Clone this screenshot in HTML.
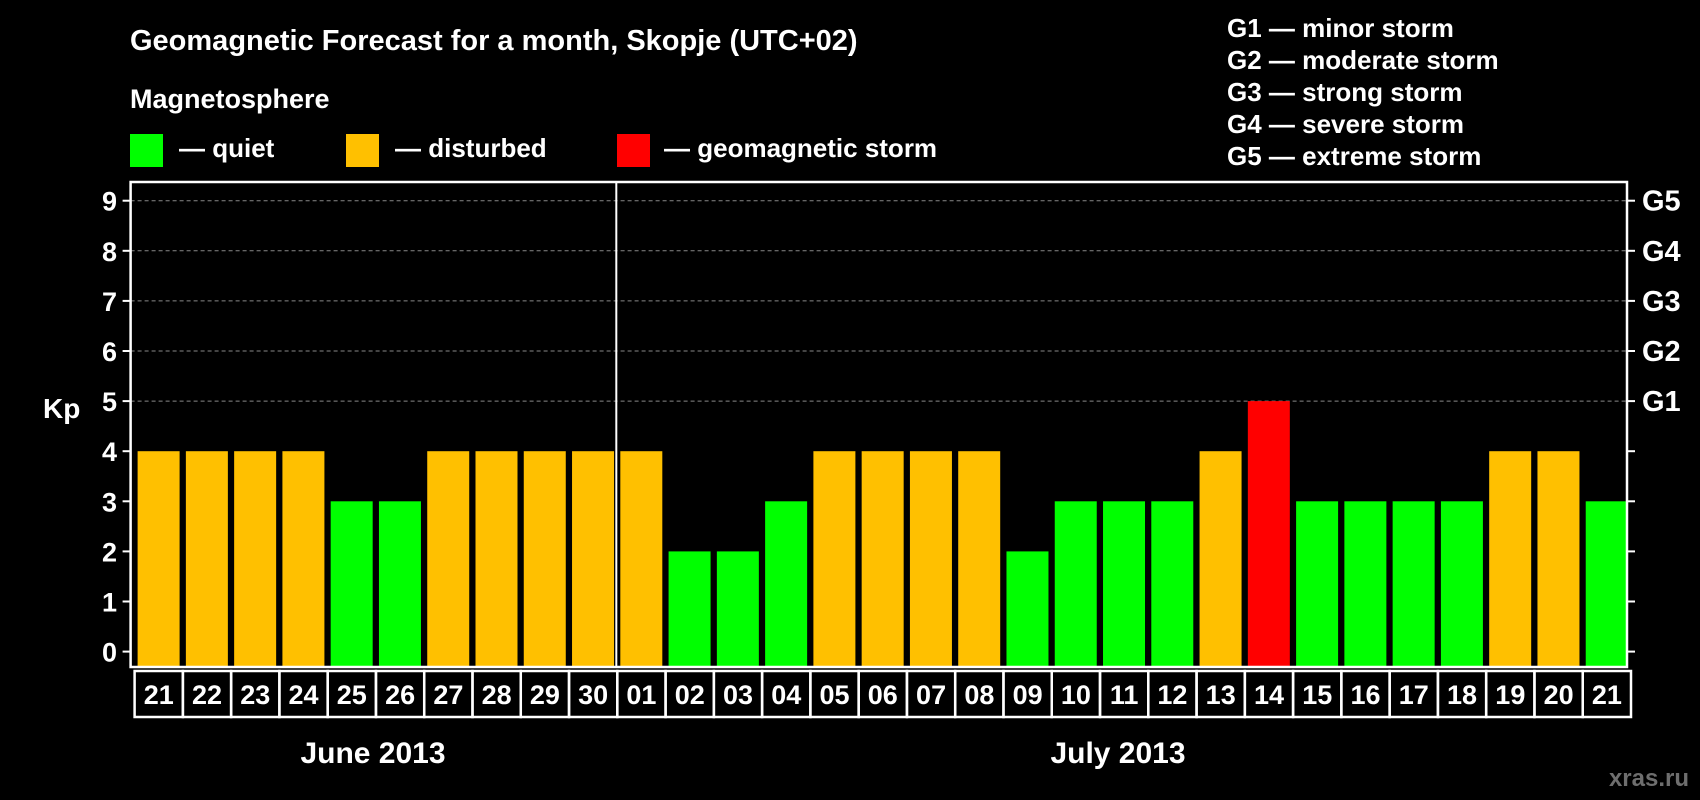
<!DOCTYPE html>
<html><head><meta charset="utf-8"><style>
html,body{margin:0;padding:0;background:#000;}
svg{display:block;font-family:"Liberation Sans",Arial,sans-serif;font-weight:bold;}
</style></head><body>
<svg id="chart" width="1700" height="800" viewBox="0 0 1700 800" xmlns="http://www.w3.org/2000/svg">
<rect width="1700" height="800" fill="#000"/>
<text x="130" y="50" fill="#fff" font-size="29">Geomagnetic Forecast for a month, Skopje (UTC+02)</text>
<text x="130" y="108" fill="#fff" font-size="27">Magnetosphere</text>
<g><rect x="130" y="134" width="33" height="33" fill="#00ff00"/><text x="179" y="157" fill="#fff" font-size="26">— quiet</text></g>
<g><rect x="346" y="134" width="33" height="33" fill="#ffc000"/><text x="395" y="157" fill="#fff" font-size="26">— disturbed</text></g>
<g><rect x="617" y="134" width="33" height="33" fill="#ff0000"/><text x="664" y="157" fill="#fff" font-size="26">— geomagnetic storm</text></g>
<g fill="#fff" font-size="26">
<text x="1227" y="37">G1 — minor storm</text>
<text x="1227" y="69">G2 — moderate storm</text>
<text x="1227" y="101">G3 — strong storm</text>
<text x="1227" y="133">G4 — severe storm</text>
<text x="1227" y="165">G5 — extreme storm</text>
</g>
<text x="43" y="418" fill="#fff" font-size="28">Kp</text>
<g id="grid"></g><g id="bars"></g><g id="axes"></g><g id="dates"></g>
<text x="373" y="763" fill="#fff" font-size="30" text-anchor="middle">June 2013</text>
<text x="1118" y="763" fill="#fff" font-size="30" text-anchor="middle">July 2013</text>
<text x="1689" y="786" fill="#6e6e6e" font-size="24" text-anchor="end">xras.ru</text>
</svg>
<script>
const days=["21","22","23","24","25","26","27","28","29","30","01","02","03","04","05","06","07","08","09","10","11","12","13","14","15","16","17","18","19","20","21"];
const kp=[4,4,4,4,3,3,4,4,4,4,4,2,2,3,4,4,4,4,2,3,3,3,4,5,3,3,3,3,4,4,3];
const yTicks=["0","1","2","3","4","5","6","7","8","9"];
const gLabels=["G1","G2","G3","G4","G5"];
const NS="http://www.w3.org/2000/svg";
const L=130.6,R=1627,T=182,B=667,pitch=(R-L)/31;
const y=v=>651.6-v*50.1;
const x=i=>L+i*pitch;
function mk(t,a,p){const e=document.createElementNS(NS,t);for(const k in a)e.setAttribute(k,a[k]);p.appendChild(e);return e;}
const grid=document.getElementById('grid'),bars=document.getElementById('bars'),axes=document.getElementById('axes'),dates=document.getElementById('dates');
for(let v=5;v<=9;v++){const g=mk('line',{x1:L,x2:R,y1:y(v),y2:y(v),stroke:'#888','stroke-dasharray':'4 3','stroke-width':1},grid);

}
kp.forEach((v,i)=>{const c=v>=5?'#ff0000':v>=4?'#ffc000':'#00ff00';
const b=mk('rect',{x:x(i)+7,y:y(v),width:42,height:B-y(v),fill:c},bars);


const d=mk('rect',{x:x(i)+4,y:671,width:pitch,height:46,fill:'none',stroke:'#fff','stroke-width':2.5},dates);


const t=mk('text',{x:x(i)+4+pitch/2,y:704,fill:'#fff','font-size':27,'text-anchor':'middle'},dates);t.textContent=days[i];

});
const fr=mk('rect',{x:L,y:T,width:R-L,height:B-T,fill:'none',stroke:'#fff','stroke-width':2.5},axes);


const dv=mk('line',{x1:x(10)+3,x2:x(10)+3,y1:T,y2:B,stroke:'#fff','stroke-width':2},axes);


yTicks.forEach((s,v)=>{mk('line',{x1:L-8,x2:L,y1:y(v),y2:y(v),stroke:'#fff','stroke-width':2},axes);
mk('line',{x1:R,x2:R+8,y1:y(v),y2:y(v),stroke:'#fff','stroke-width':2},axes);
const t=mk('text',{x:117,y:y(v)+10,fill:'#fff','font-size':27,'text-anchor':'end'},axes);t.textContent=s;

});
gLabels.forEach((s,i)=>{const t=mk('text',{x:1642,y:y(i+5)+10,fill:'#fff','font-size':29},axes);t.textContent=s;

});
</script>
</body></html>
